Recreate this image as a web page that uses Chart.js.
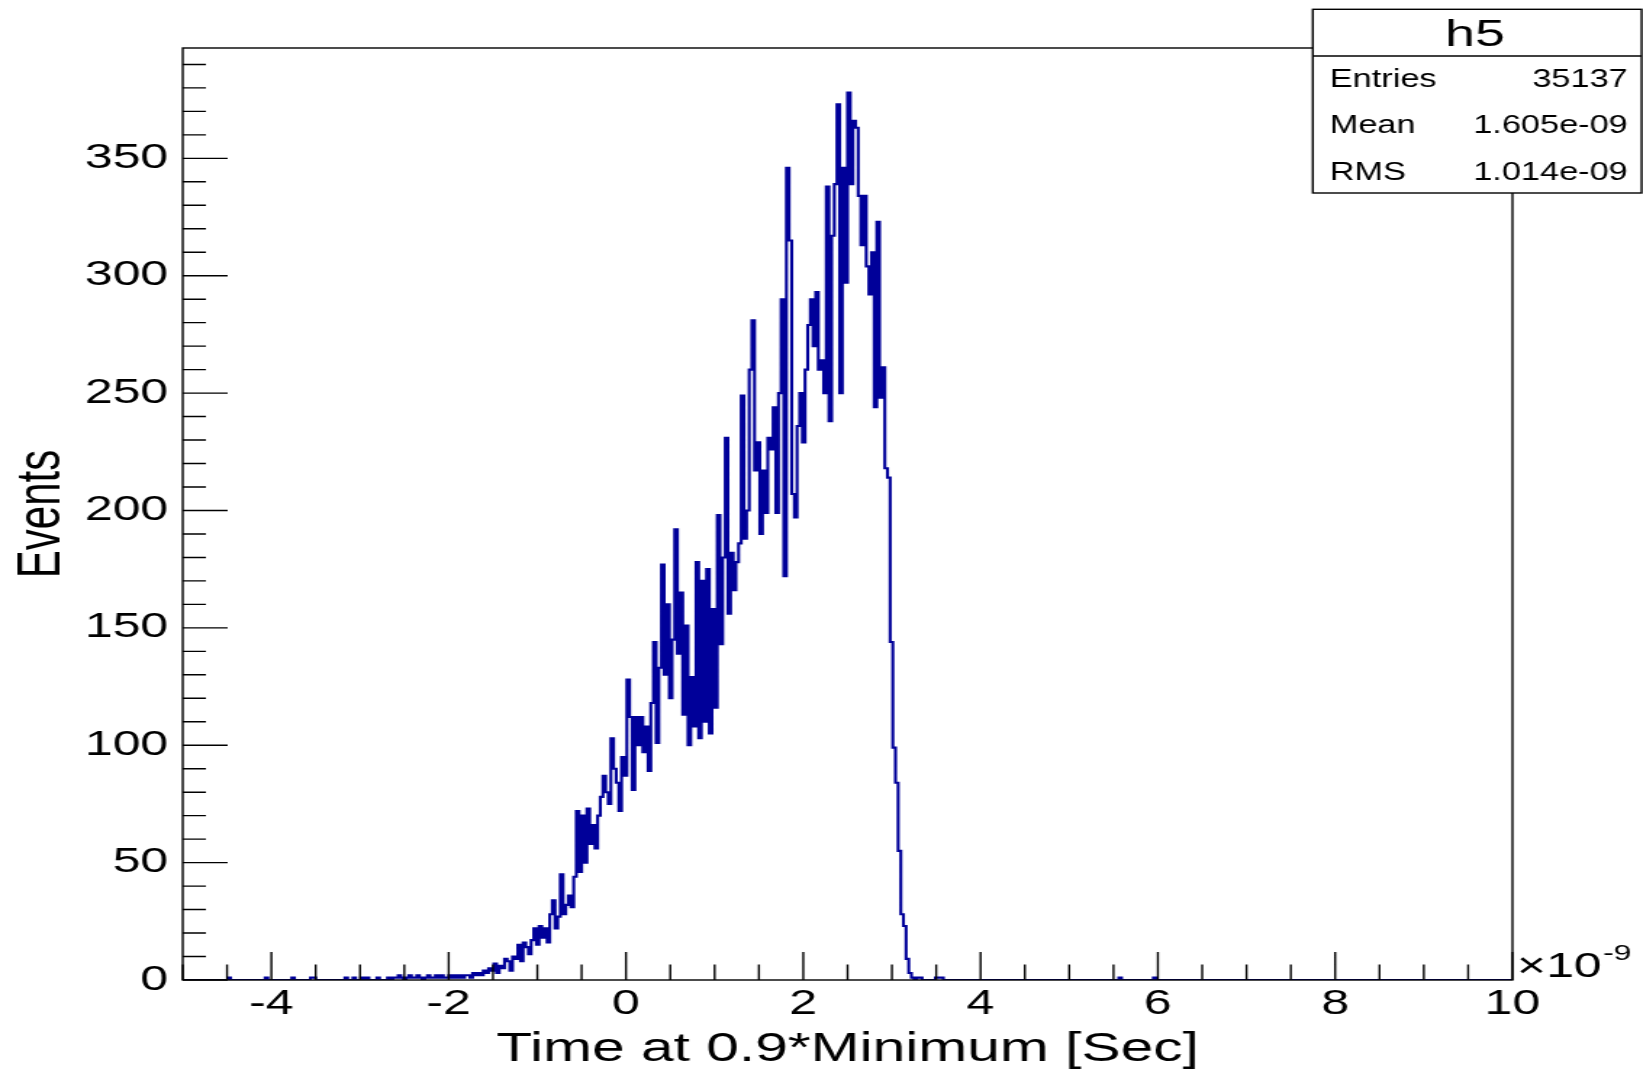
<!DOCTYPE html>
<html><head><meta charset="utf-8">
<script src="https://cdn.jsdelivr.net/npm/chart.js@4.4.0/dist/chart.umd.min.js"></script>
<style>
html,body{margin:0;padding:0;background:#fff;overflow:hidden;}
#wrap{width:1133px;height:1074px;transform:scaleX(1.4501);transform-origin:0 0;}
canvas{display:block;}
</style></head><body>
<div id="wrap"><canvas id="c" width="1133" height="1074"></canvas></div>
<script>
// ---- histogram binning ----
const binLow = -5, binHigh = 10, binWidth = 0.03;
// counts of consecutive bins, starting at bin index mainFirstBin (x = -2.69)
const mainFirstBin = 77;
const mainCounts = [
  1,0,1,1,2,1,0,1,2,1,1,2,1,0,1,2,1,1,2,1,2,1,1,
  2,1,2,1,2,1,2,2,1,3,
  2,3,2,4,3,5,4,7,3,6,
  5,9,8,4,10,9,15,8,16,14,
  11,17,22,15,23,18,22,16,28,34,
  22,27,45,28,32,36,31,44,72,46,
  70,50,73,58,66,56,70,78,87,80,
  75,103,90,84,72,95,87,128,112,81,
  112,100,112,97,108,89,118,144,101,133,
  177,130,160,120,145,192,139,165,113,151,
  100,129,108,178,103,170,110,175,105,158,
  116,198,143,180,231,156,182,166,178,186,
  249,188,200,260,281,217,229,190,217,199,
  231,226,244,199,250,290,172,346,315,207,
  197,236,250,229,260,279,290,270,293,260,
  264,250,338,238,317,339,373,250,346,297,
  378,339,366,363,334,313,334,304,292,310,
  244,323,248,261,218,214,144,99,84,55,
  28,23,9,3,1,0,1,1,0,0,
  0,0,0,1,1,1,0
];
// isolated single entries in the tails
const isolatedX = [-4.49,-4.05,-3.75,-3.54,-3.51,-3.16,-3.08,-2.98,-2.93,-2.81,5.57,5.95];
const isolatedCounts = [1,1,1,1,1,1,1,1,1,1,1,1];

const xTickValues = [-4,-2,0,2,4,6,8,10];
const yTickValues = [0,50,100,150,200,250,300,350];
const yMax = 397;

const statsTitle = 'h5';
const statsLabels = ['Entries','Mean','RMS'];
const statsValues = ['35137','1.605e-09','1.014e-09'];
const xTitle = 'Time at 0.9*Minimum [Sec]';
const yTitle = 'Events';
const xExponent = ['\u00d710','-9'];

// ---- build histogram points ----
const nBins = Math.round((binHigh - binLow) / binWidth);
const counts = new Array(nBins).fill(0);
mainCounts.forEach((c, i) => { counts[mainFirstBin + i] = c; });
isolatedX.forEach((x, i) => {
  const k = Math.floor((x - binLow) / binWidth + 1e-9);
  counts[k] += isolatedCounts[i];
});
const pts = [];
for (let i = 0; i < nBins; i++) pts.push({x: binLow + i * binWidth, y: counts[i]});
pts.push({x: binHigh, y: counts[nBins - 1]});

const FONT = 'Liberation Sans, Arial, sans-serif';

const rootDecor = {
  id: 'rootDecor',
  afterDatasetsDraw(chart) {
    const {ctx, chartArea: a, scales: {x, y}} = chart;
    ctx.save();
    ctx.strokeStyle = '#000';
    ctx.lineWidth = 1.4;
    ctx.strokeRect(a.left, a.top, a.right - a.left, a.bottom - a.top);
    ctx.beginPath();
    for (let v = binLow; v <= binHigh + 1e-9; v += 0.5) {
      const px = x.getPixelForValue(v);
      const major = xTickValues.some(t => Math.abs(t - v) < 1e-6);
      ctx.moveTo(px, a.bottom);
      ctx.lineTo(px, a.bottom - (major ? 28 : 15.5));
    }
    for (let v = 0; v <= yMax; v += 10) {
      const py = y.getPixelForValue(v);
      const major = yTickValues.includes(v);
      ctx.moveTo(a.left, py);
      ctx.lineTo(a.left + (major ? 31 : 16), py);
    }
    ctx.stroke();
    ctx.restore();
  },
  afterDraw(chart) {
    const {ctx, chartArea: a} = chart;
    ctx.save();
    // exponent label
    ctx.fillStyle = '#000';
    ctx.textBaseline = 'alphabetic';
    ctx.textAlign = 'left';
    ctx.font = '34.5px ' + FONT;
    const ex = a.right + 3;
    ctx.fillText(xExponent[0], ex, 977);
    const w = ctx.measureText(xExponent[0]).width;
    ctx.font = '22px ' + FONT;
    ctx.fillText(xExponent[1], ex + w + 1, 960);
    // stats box
    const bx = 905.3, by = 9.3, bw = 1132 - 905.3, bh = 193 - 9.3;
    ctx.fillStyle = '#fff';
    ctx.fillRect(bx, by, bw, bh);
    ctx.strokeStyle = '#000';
    ctx.lineWidth = 1.4;
    ctx.strokeRect(bx, by, bw, bh);
    ctx.beginPath();
    ctx.moveTo(bx, 56); ctx.lineTo(bx + bw, 56);
    ctx.stroke();
    ctx.fillStyle = '#000';
    ctx.font = '37px ' + FONT;
    ctx.textAlign = 'center';
    ctx.fillText(statsTitle, 1017.2, 46);
    const sx = 0.91;
    ctx.scale(sx, 1);
    ctx.font = '26px ' + FONT;
    const rows = [87.3, 133.3, 180];
    statsLabels.forEach((lab, i) => {
      ctx.textAlign = 'left';
      ctx.fillText(lab, 917 / sx, rows[i]);
      ctx.textAlign = 'right';
      ctx.fillText(statsValues[i], 1122.5 / sx, rows[i]);
    });
    ctx.restore();
  }
};

new Chart(document.getElementById('c'), {
  type: 'line',
  data: {datasets: [{
    data: pts, borderColor: '#000099', borderWidth: 2.1, pointRadius: 0,
    stepped: 'before', fill: false, tension: 0
  }]},
  options: {
    responsive: false, animation: false, devicePixelRatio: 1,
    layout: {padding: {left: 0, right: 90, top: 48, bottom: 0}},
    plugins: {legend: {display: false}, tooltip: {enabled: false}},
    scales: {
      x: {
        type: 'linear', min: binLow, max: binHigh,
        grid: {display: false, drawTicks: false}, border: {display: false},
        afterBuildTicks: s => { s.ticks = xTickValues.map(v => ({value: v})); },
        afterFit: s => { s.height = 94; },
        ticks: {font: {family: FONT, size: 34.5}, color: '#000', padding: 4,
                maxRotation: 0, autoSkip: false, callback: v => String(v)},
        title: {display: true, text: xTitle, color: '#000',
                font: {family: FONT, size: 40.5}, padding: {top: 0, bottom: 0}}
      },
      y: {
        type: 'linear', min: 0, max: yMax,
        grid: {display: false, drawTicks: false}, border: {display: false},
        afterBuildTicks: s => { s.ticks = yTickValues.map(v => ({value: v})); },
        afterFit: s => { s.width = 126; },
        ticks: {font: {family: FONT, size: 34.5}, color: '#000', padding: 10,
                autoSkip: false, callback: v => String(v)},
        title: {display: true, text: yTitle, color: '#000',
                font: {family: FONT, size: 42}, padding: {top: 4, bottom: 0}}
      }
    }
  },
  plugins: [rootDecor]
});
</script>
</body></html>
